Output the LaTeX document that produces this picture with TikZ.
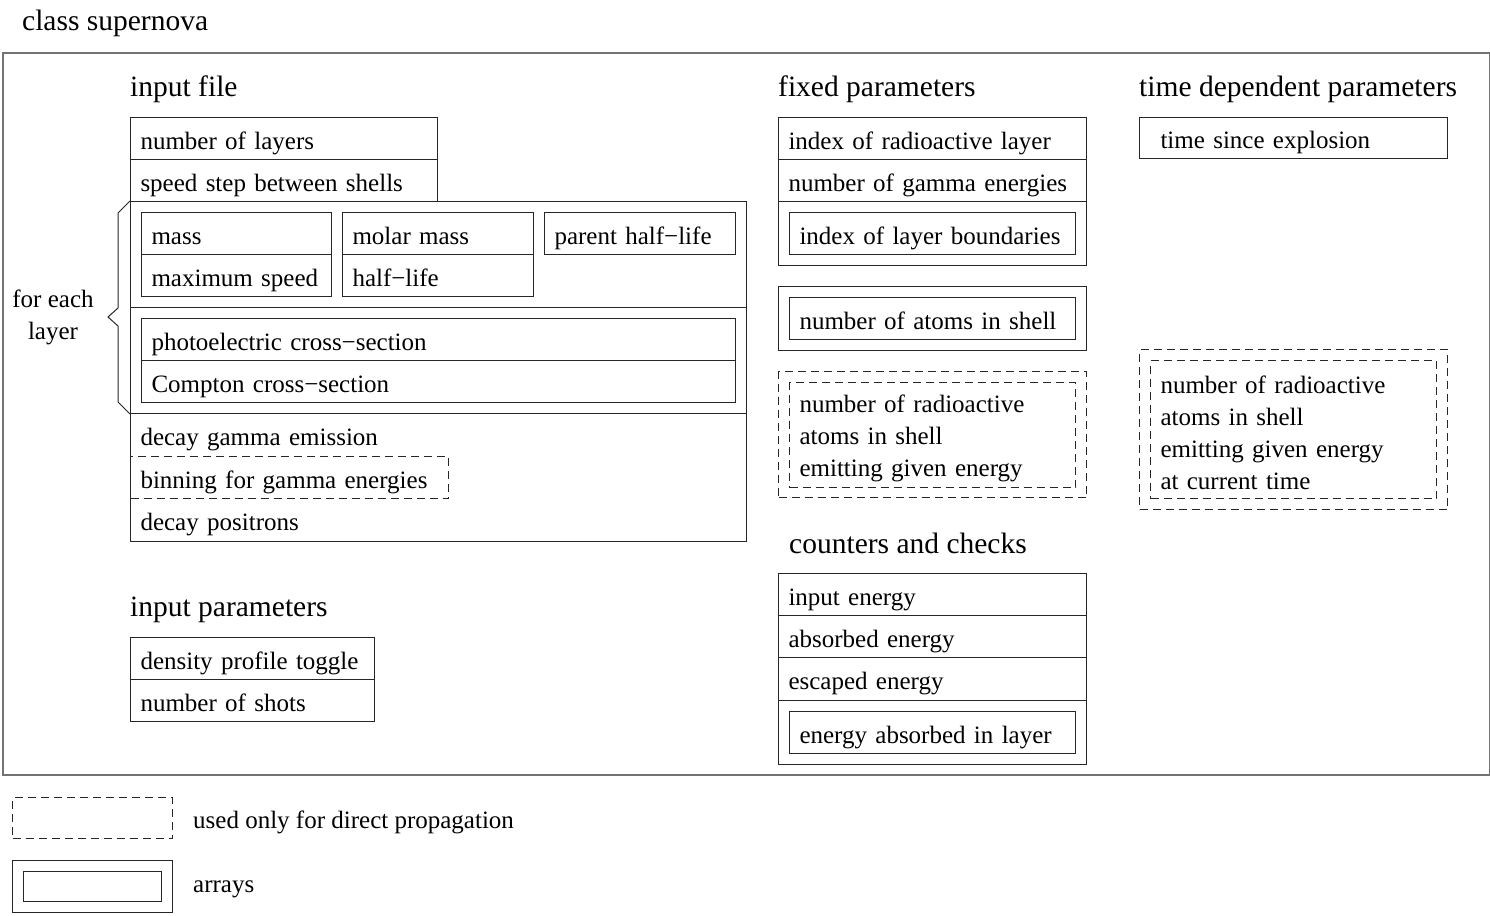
\documentclass[tikz,border=0pt]{standalone}
\usepackage{fontspec}
\setmainfont{Liberation Serif}
\usetikzlibrary{positioning}
\hyphenpenalty=10000
\tikzset{
  % one field of a record (single line of text)
  fld/.style={rectangle, draw=black!85, line width=1pt, anchor=north west, align=left,
              inner xsep=10pt, inner ysep=0pt, minimum height=42pt, text height=21pt,
              text depth=0pt, text width=#1, font=\fontsize{25}{32}\selectfont},
  % empty frame (array wrapper / group)
  grp/.style 2 args={rectangle, draw=black!85, line width=1pt, anchor=north west,
              inner sep=0pt, minimum width=#1, minimum height=#2},
  % field with several lines
  mlt/.style={rectangle, draw=black!85, line width=1pt, anchor=north west, align=left,
              inner xsep=10pt, inner ysep=0pt, text height=25pt, text width=#1,
              font=\fontsize{25}{32}\selectfont},
  dsh/.style={dash pattern=on 8pt off 5pt},
  hdr/.style={anchor=base west, inner sep=0pt, font=\fontsize{29.5}{35}\selectfont},
  lbl/.style={anchor=base west, inner sep=0pt, font=\fontsize{25}{32}\selectfont}
}

\begin{document}
\begin{tikzpicture}[x=1pt,y=-1pt]
    \useasboundingbox (0,0) rectangle (1490,915);

    % ---- class frame ----
    \node[hdr] (cls) at (22,31) {class supernova};
    \node[grp={1487pt}{722pt}, draw=black!55, line width=1.6pt] (frame) at (2,52) {};

    % ---- input file ----
    \node[hdr] (hif) at (130,97) {input file};
    \node[fld=287pt] (nl) at (130,117) {number of layers};
    \node[fld=287pt] (ss) at (130,159) {speed step between shells};
    \node[grp={616pt}{340pt}] (lay) at (130,201) {};
    \node[grp={616pt}{106pt}] (sec1) at (130,201) {};
    \node[grp={616pt}{106pt}] (sec2) at (130,307) {};

    \node[fld=170pt] (mass) at (141,212) {mass};
    \node[fld=170pt] (vmax) at (141,254) {maximum speed};
    \node[fld=171pt] (mm) at (342,212) {molar mass};
    \node[fld=171pt] (hl) at (342,254) {half−life};
    \node[fld=171pt] (phl) at (544,212) {parent half−life};
    \node[fld=574pt] (pe) at (141,318) {photoelectric cross−section};
    \node[fld=574pt] (cs) at (141,360) {Compton cross−section};

    \node[fld=596pt, draw=none, minimum height=43pt] (dge) at (130,413) {decay gamma emission};
    \node[fld=298pt, dsh] (bin) at (130,456) {binning for gamma energies};
    \node[fld=596pt, draw=none, minimum height=43pt] (dpo) at (130,498) {decay positrons};

    % brace over the per-layer block
    \draw[black!85, line width=1pt] (sec1.north west) -- (118,213) -- (118,308) -- (108,317)
      -- (118,326) -- (118,402) -- (sec2.south west);
    \node[align=center, inner sep=0pt, font=\fontsize{25}{32}\selectfont] (each) at (53,317)
      {for each\\layer};

    % ---- input parameters ----
    \node[hdr] (hip) at (130,616) {input parameters};
    \node[fld=224pt] (dpt) at (130,637) {density profile toggle};
    \node[fld=224pt] (nsh) at (130,679) {number of shots};

    % ---- fixed parameters ----
    \node[hdr] (hfp) at (778,97) {fixed parameters};
    \node[fld=288pt] (irl) at (778,117) {index of radioactive layer};
    \node[fld=288pt] (nge) at (778,159) {number of gamma energies};
    \node[grp={308pt}{64pt}] (ilbo) at (778,201) {};
    \node[fld=266pt] (ilb) at (789,212) {index of layer boundaries};
    \node[grp={308pt}{64pt}] (naso) at (778,286) {};
    \node[fld=266pt] (nas) at (789,297) {number of atoms in shell};
    \node[grp={308pt}{126pt}, dsh] (nrao) at (778,371) {};
    \node[mlt=266pt, dsh, minimum height=105pt] (nra) at (789,382)
      {number of radioactive\\atoms in shell\\emitting given energy};

    % ---- counters and checks ----
    \node[hdr] (hcc) at (789,553) {counters and checks};
    \node[fld=288pt] (ien) at (778,573) {input energy};
    \node[fld=288pt] (aen) at (778,615) {absorbed energy};
    \node[fld=288pt, minimum height=43pt] (een) at (778,657) {escaped energy};
    \node[grp={308pt}{64pt}] (ealo) at (778,700) {};
    \node[fld=266pt] (eal) at (789,711) {energy absorbed in layer};

    % ---- time dependent parameters ----
    \node[hdr] (htd) at (1139,97) {time dependent parameters};
    \node[fld=266pt, inner xsep=21pt, minimum height=41pt] (tse) at (1139,117) {time since explosion};
    \node[grp={308pt}{160pt}, dsh] (nrto) at (1139,349) {};
    \node[mlt=266pt, dsh, minimum height=138pt] (nrt) at (1150,360)
      {number of radioactive\\atoms in shell\\emitting given energy\\at current time};

    % ---- legend ----
    \node[grp={160pt}{41pt}, dsh] (kdir) at (12,797) {};
    \node[lbl] (tdir) at (193,828) {used only for direct propagation};
    \node[grp={160pt}{52pt}] (karro) at (12,860) {};
    \node[grp={138pt}{30pt}] (karr) at (23,871) {};
    \node[lbl] (tarr) at (193,892) {arrays};
\end{tikzpicture}
\end{document}
